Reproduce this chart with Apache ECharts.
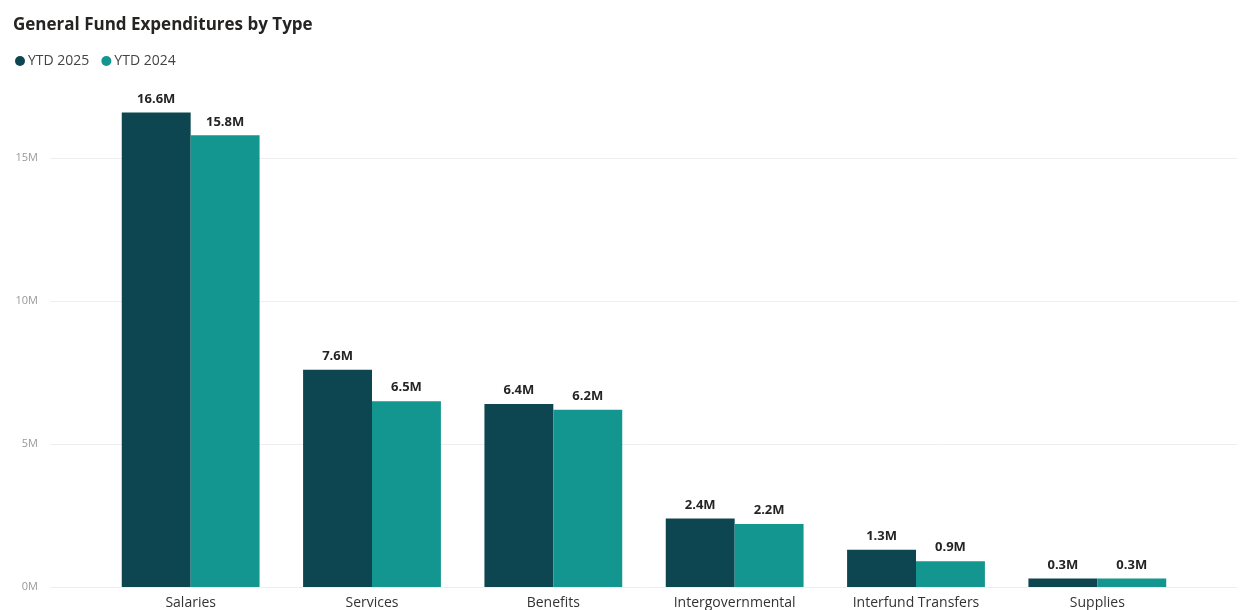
<!DOCTYPE html>
<html>
<head>
<meta charset="utf-8">
<script src="https://cdn.jsdelivr.net/npm/echarts@6/dist/echarts.min.js"></script>
<style>
  html, body { margin: 0; padding: 0; background: #fff; }
  #chart { width: 1241px; height: 610px; }
</style>
</head>
<body>
<div id="chart"></div>
<script>
// Expenditure categories and year-to-date totals (millions)
const categories = ['Salaries', 'Services', 'Benefits', 'Intergovernmental', 'Interfund Transfers', 'Supplies'];
const ytd2025 = [16.6, 7.6, 6.4, 2.4, 1.3, 0.3];
const ytd2024 = [15.8, 6.5, 6.2, 2.2, 0.9, 0.3];
const seriesNames = ['YTD 2025', 'YTD 2024'];

const colors = ['#0d4650', '#12968f'];
const fontFamily = '"Open Sans", "Noto Sans", sans-serif';
const yMax = 17;

const chart = echarts.init(document.getElementById('chart'));

const barLabel = {
  show: true,
  position: 'top',
  distance: 7,
  color: '#252423',
  fontFamily: fontFamily,
  fontWeight: 'bold',
  fontSize: 13,
  formatter: p => p.value.toFixed(1) + 'M'
};

chart.setOption({
  animation: false,
  color: colors,
  title: {
    text: 'General Fund Expenditures by Type',
    left: 8,
    top: 12,
    textStyle: { fontFamily: fontFamily, fontWeight: 'bold', fontSize: 17, color: '#252423' }
  },
  legend: {
    data: seriesNames,
    left: 10,
    top: 49,
    icon: 'circle',
    itemWidth: 10,
    itemHeight: 10,
    itemGap: 12,
    textStyle: { fontFamily: fontFamily, fontSize: 14, color: '#444', padding: [0, 0, 0, -2] }
  },
  grid: [
    // bars
    { left: 100, right: 53, top: 101, bottom: 23 },
    // value scale with full-width gridlines
    { left: 50, right: 4, top: 101, bottom: 23 }
  ],
  xAxis: [
    {
      type: 'category',
      gridIndex: 0,
      data: categories,
      axisLine: { show: false },
      axisTick: { show: false },
      axisLabel: { color: '#333', fontFamily: fontFamily, fontSize: 14, margin: 9 }
    },
    { type: 'value', gridIndex: 1, show: false }
  ],
  yAxis: [
    { type: 'value', gridIndex: 0, min: 0, max: yMax, show: false },
    {
      type: 'value',
      gridIndex: 1,
      min: 0,
      max: yMax,
      interval: 5,
      axisLine: { show: false },
      axisTick: { show: false },
      axisLabel: {
        color: '#999',
        fontFamily: fontFamily,
        fontSize: 11,
        margin: 12,
        showMaxLabel: false,
        formatter: v => v + 'M'
      },
      splitLine: { show: true, showMaxLine: false, lineStyle: { color: '#eeeeee', width: 1 } }
    }
  ],
  series: [
    {
      name: seriesNames[0],
      type: 'bar',
      xAxisIndex: 0,
      yAxisIndex: 0,
      data: ytd2025,
      barGap: '0%',
      barCategoryGap: '24%',
      label: barLabel,
      z: 3
    },
    {
      name: seriesNames[1],
      type: 'bar',
      xAxisIndex: 0,
      yAxisIndex: 0,
      data: ytd2024,
      barGap: '0%',
      barCategoryGap: '24%',
      label: barLabel,
      z: 3
    }
  ]
});
</script>
</body>
</html>
